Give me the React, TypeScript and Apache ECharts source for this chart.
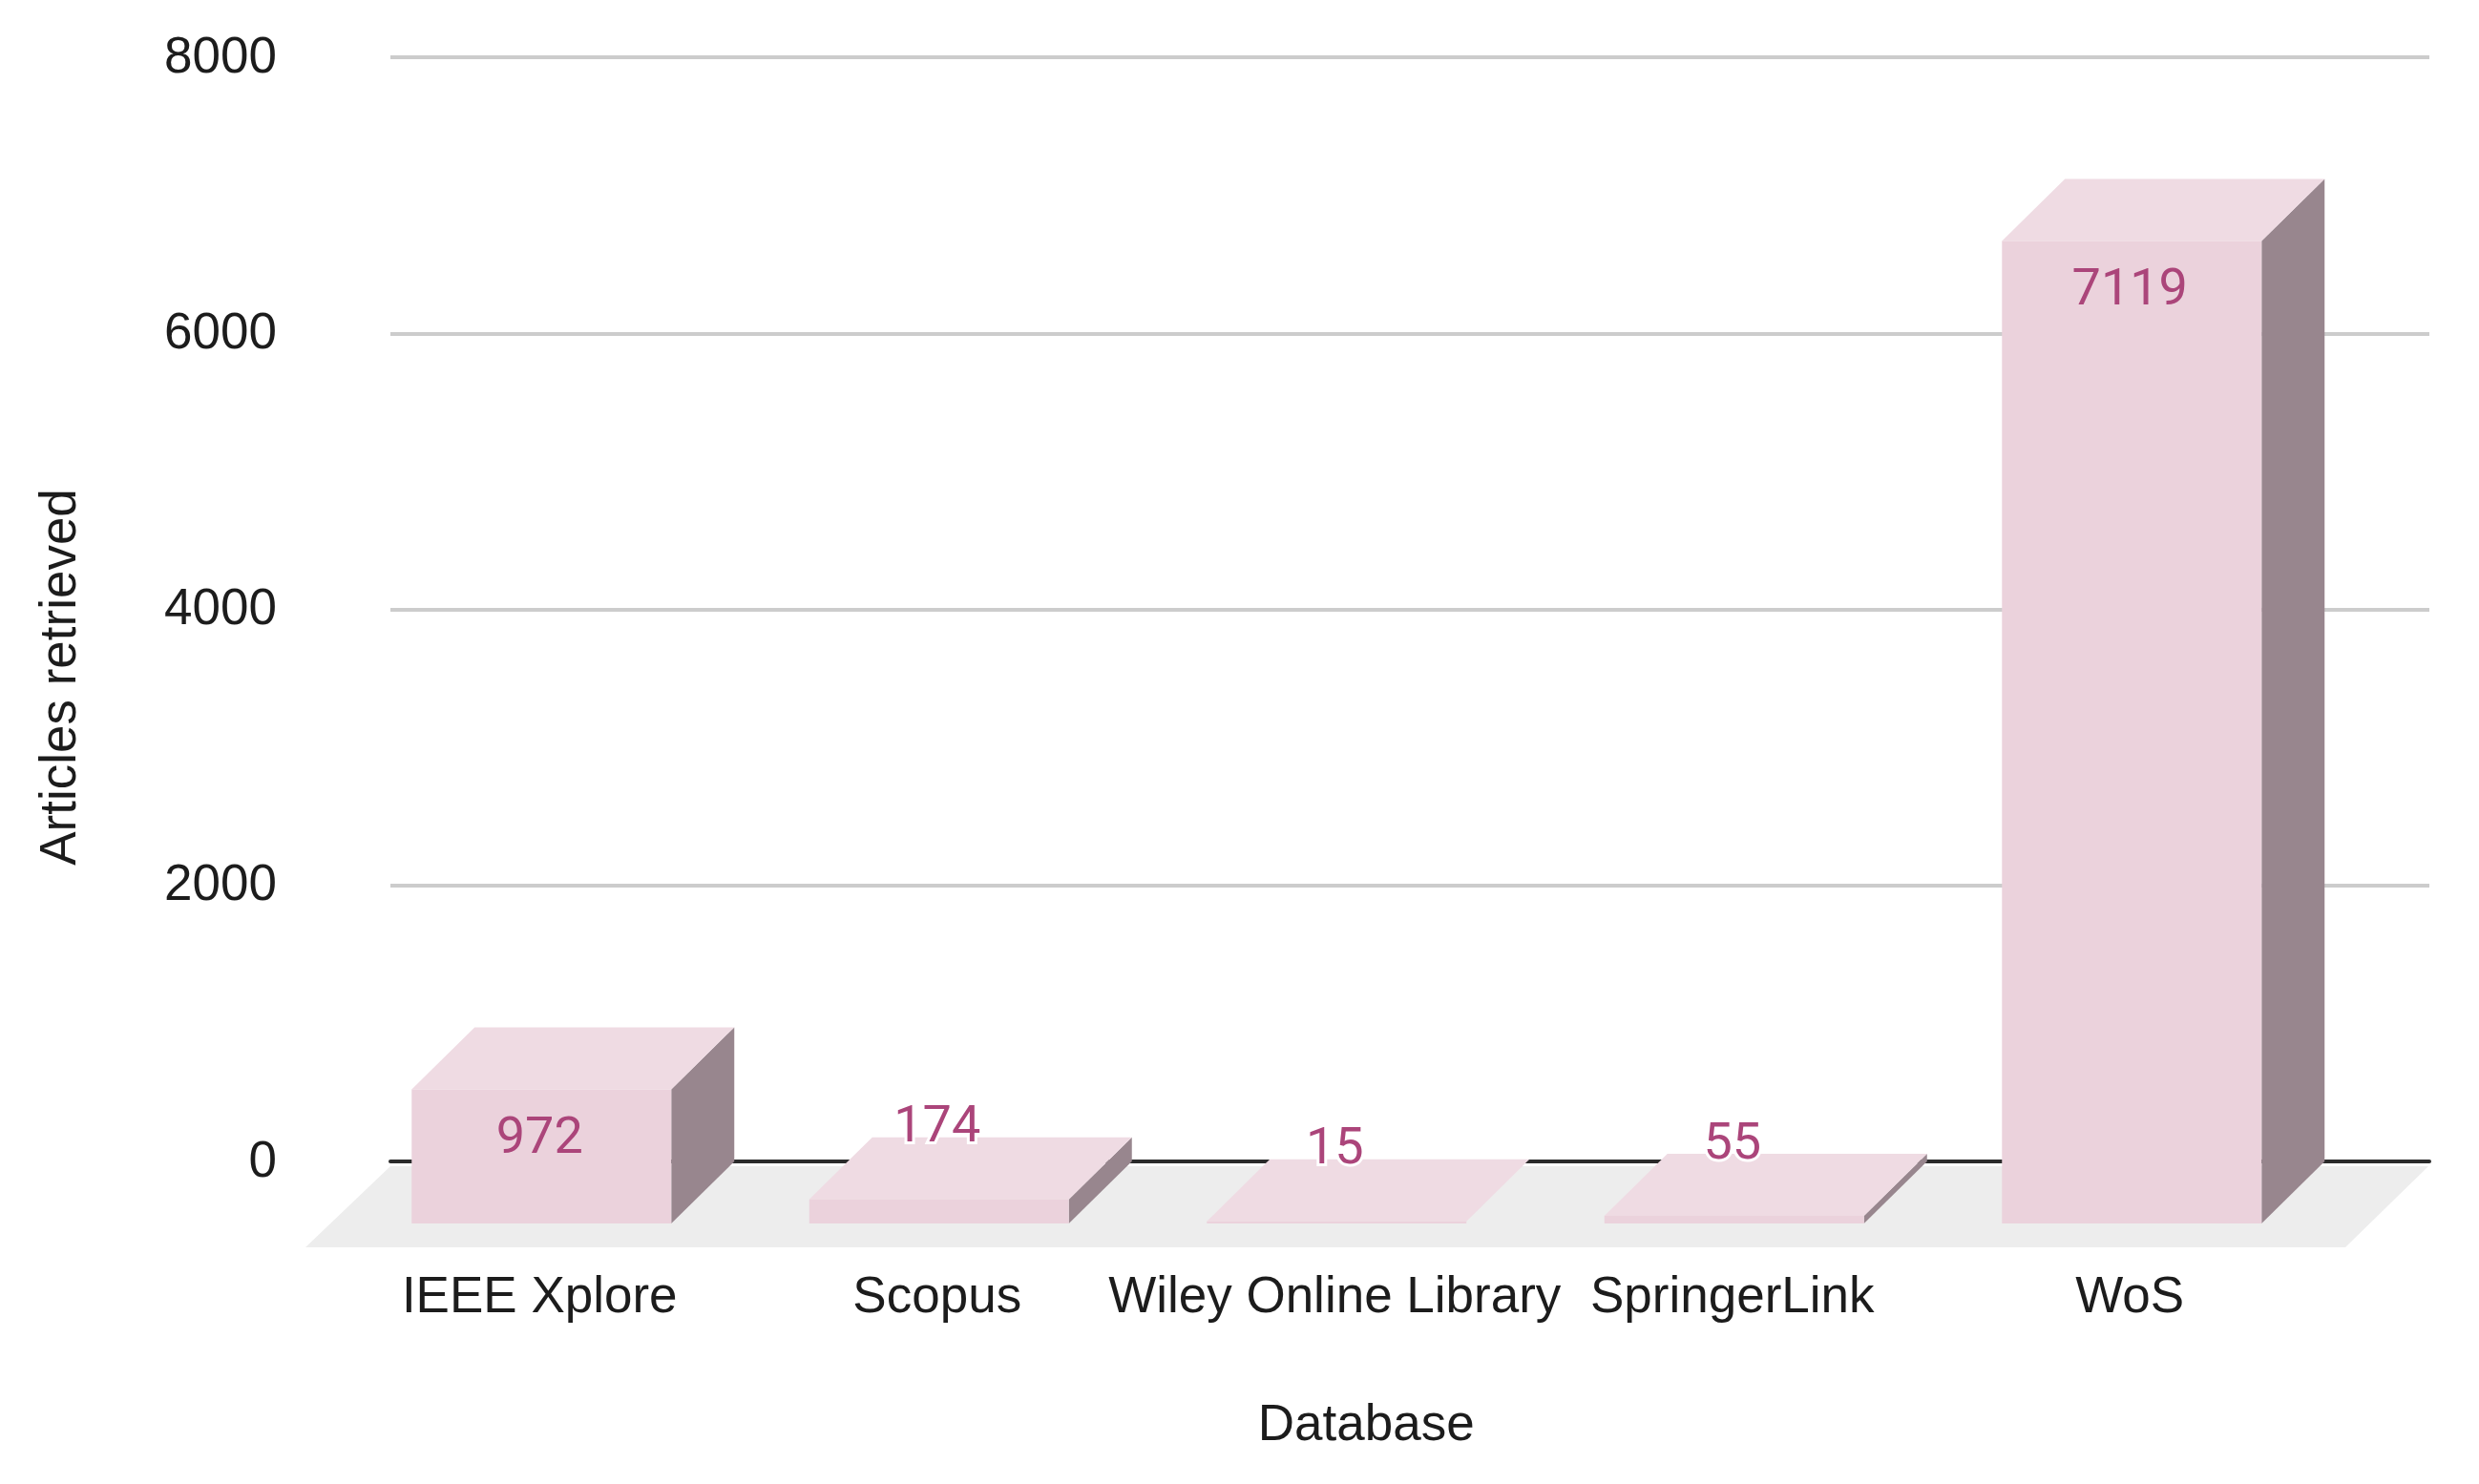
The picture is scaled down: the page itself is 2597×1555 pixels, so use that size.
import React, { useEffect, useRef } from "react";
import * as echarts from "echarts";

const categories = ["IEEE Xplore", "Scopus", "Wiley Online Library", "SpringerLink", "WoS"];
const articles = [972, 174, 15, 55, 7119];
const yTicks = { min: 0, max: 8000, interval: 2000 };
const yAxisName = "Articles retrieved";
const xAxisName = "Database";

const FONT = "'Liberation Sans', Arial, sans-serif";
const LABEL_FONT = "Roboto, sans-serif";
const TEXT = "#1c1c1c";
const DEPTH_X = 66;
const DEPTH_Y = 65;

function renderBar(_: any, api: any) {
  const idx = api.value(0);
  const v = api.value(1);
  const [cx0, top] = api.coord([idx, v]);
  const [, base] = api.coord([idx, 0]);
  const cx = cx0 - 1;
  const w = api.size([1, 0])[0] * 0.653;
  const l = cx - w / 2;
  const r = cx + w / 2;
  const h = base - top;
  const inside = h > 100;
  const labelY = inside ? top + 48 : top - 79;
  const children: any[] = [];
  if (h > 3) {
    children.push({
      type: "polygon",
      shape: { points: [[r, top], [r + DEPTH_X, top - DEPTH_Y], [r + DEPTH_X, base - DEPTH_Y], [r, base]] },
      style: { fill: "#98868e" },
    });
  }
  children.push(
    {
      type: "polygon",
      shape: { points: [[l, top], [l + DEPTH_X, top - DEPTH_Y], [r + DEPTH_X, top - DEPTH_Y], [r, top]] },
      style: { fill: "#efdbe3" },
    },
    { type: "rect", shape: { x: l, y: top, width: w, height: h }, style: { fill: "#ebd2dc" } },
    {
      type: "text",
      style: {
        text: String(v),
        x: cx0 - 3,
        y: labelY,
        align: "center",
        verticalAlign: "middle",
        fill: "#ab457a",
        fontFamily: LABEL_FONT,
        fontSize: 54,
        stroke: inside ? "transparent" : "#ffffff",
        lineWidth: inside ? 0 : 6,
      },
    }
  );
  return { type: "group", children };
}

export default function App() {
  const ref = useRef<HTMLDivElement>(null);
  useEffect(() => {
    const chart = echarts.init(ref.current!, undefined, { renderer: "svg" });
    chart.setOption({
      animation: false,
      backgroundColor: "#ffffff",
      textStyle: { fontFamily: FONT },
      grid: [
        { left: 409, top: 60, width: 2136, height: 1157 },
        { left: 360, top: 125, width: 2082.5, height: 1157 },
      ],
      graphic: [
        {
          type: "polygon",
          z: 1,
          shape: { points: [[409, 1222], [2544, 1222], [2457, 1307], [320, 1307]] },
          style: { fill: "#ededed" },
        },
      ],
      xAxis: [
        {
          type: "category",
          gridIndex: 0,
          data: categories,
          axisLabel: { show: false },
          axisTick: { show: false },
          axisLine: { lineStyle: { color: "#2b2b2b", width: 4 } },
          splitLine: { show: false },
        },
        {
          type: "category",
          gridIndex: 1,
          data: categories,
          name: xAxisName,
          nameLocation: "middle",
          nameGap: 182,
          nameTextStyle: { fontSize: 53, color: TEXT, fontFamily: FONT, padding: [0, 0, 0, 60] },
          axisLine: { show: false },
          axisTick: { show: false },
          splitLine: { show: false },
          axisLabel: {
            interval: 0,
            margin: 48,
            fontSize: 53,
            color: TEXT,
            fontFamily: FONT,
            padding: [0, 6, 0, 0],
            hideOverlap: false,
          },
        },
      ],
      yAxis: [
        {
          type: "value",
          gridIndex: 0,
          ...yTicks,
          name: yAxisName,
          nameLocation: "middle",
          nameGap: 322,
          nameRotate: 90,
          nameTextStyle: { fontSize: 53, color: TEXT, fontFamily: FONT, padding: [0, 142, 0, 0] },
          axisLine: { show: false },
          axisTick: { show: false },
          axisLabel: {
            margin: 119,
            fontSize: 53,
            color: TEXT,
            fontFamily: FONT,
            verticalAlign: "bottom",
            lineHeight: 6,
            formatter: (v: number) => String(v),
          },
          splitLine: { lineStyle: { color: "#cccccc", width: 4 } },
        },
        {
          type: "value",
          gridIndex: 1,
          ...yTicks,
          show: false,
          splitLine: { show: false },
        },
      ],
      series: [
        {
          type: "custom",
          xAxisIndex: 1,
          yAxisIndex: 1,
          clip: false,
          z: 5,
          renderItem: renderBar,
          encode: { x: 0, y: 1 },
          data: categories.map((_, i) => [i, articles[i]]),
        },
      ],
    });
    return () => chart.dispose();
  }, []);
  return (
    <div
      ref={ref}
      style={{ position: "fixed", left: 0, top: 0, width: 2597, height: 1555 }}
    />
  );
}
